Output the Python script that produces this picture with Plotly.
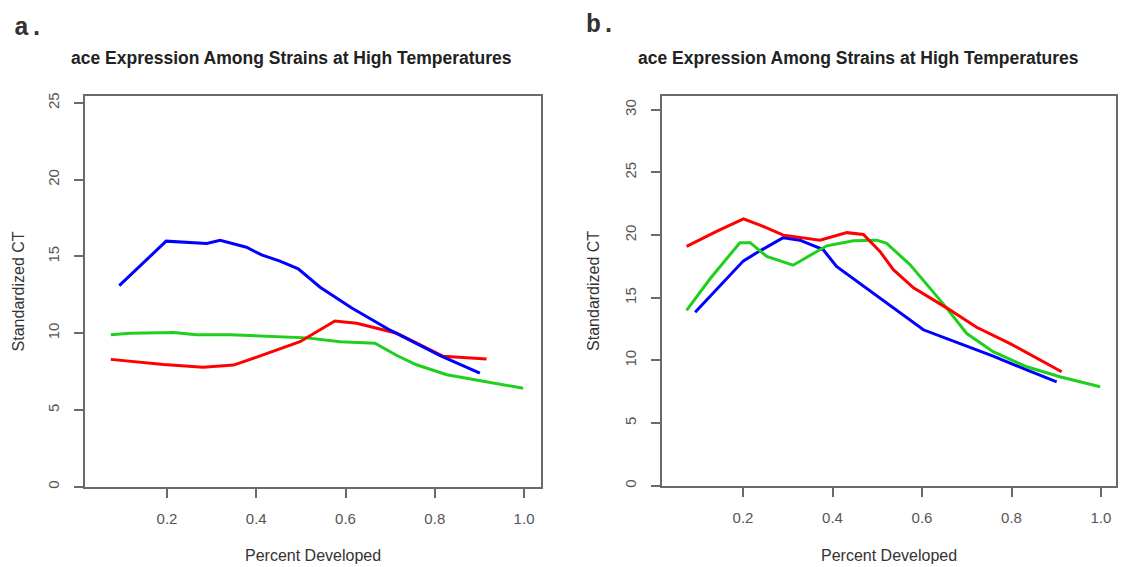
import plotly.graph_objects as go

W, H = 1131, 567

# ---- data: panel a ----
a_blue_x = [0.093, 0.198, 0.289, 0.319, 0.378, 0.412, 0.453, 0.494, 0.543, 0.614, 0.700, 0.812, 0.901]
a_blue_y = [13.1, 16.0, 15.85, 16.05, 15.6, 15.1, 14.7, 14.2, 13.0, 11.65, 10.2, 8.55, 7.4]
a_green_x = [0.074, 0.117, 0.214, 0.266, 0.341, 0.423, 0.513, 0.588, 0.666, 0.715, 0.759, 0.827, 0.901, 0.998]
a_green_y = [9.9, 10.0, 10.05, 9.9, 9.9, 9.8, 9.7, 9.45, 9.35, 8.55, 7.95, 7.3, 6.9, 6.42]
a_red_x = [0.074, 0.192, 0.281, 0.349, 0.401, 0.498, 0.576, 0.625, 0.715, 0.819, 0.916]
a_red_y = [8.3, 7.97, 7.78, 7.93, 8.45, 9.45, 10.8, 10.65, 10.0, 8.5, 8.33]

# ---- data: panel b ----
b_red_x = [0.074, 0.141, 0.201, 0.238, 0.290, 0.372, 0.432, 0.469, 0.506, 0.536, 0.581, 0.655, 0.722, 0.797, 0.912]
b_red_y = [19.1, 20.3, 21.3, 20.8, 20.0, 19.6, 20.2, 20.05, 18.7, 17.25, 15.8, 14.2, 12.65, 11.35, 9.1]
b_green_x = [0.074, 0.126, 0.193, 0.216, 0.253, 0.312, 0.387, 0.447, 0.499, 0.521, 0.573, 0.648, 0.700, 0.759, 0.834, 0.908, 0.998]
b_green_y = [14.0, 16.5, 19.4, 19.4, 18.3, 17.6, 19.15, 19.55, 19.6, 19.35, 17.65, 14.5, 12.15, 10.7, 9.5, 8.7, 7.9]
b_blue_x = [0.093, 0.141, 0.201, 0.238, 0.290, 0.327, 0.379, 0.409, 0.476, 0.536, 0.603, 0.685, 0.759, 0.834, 0.901]
b_blue_y = [13.85, 15.7, 17.95, 18.75, 19.8, 19.6, 18.85, 17.5, 15.75, 14.25, 12.45, 11.35, 10.35, 9.25, 8.3]

x_ticks = [0.2, 0.4, 0.6, 0.8, 1.0]
x_ticklabels = ["0.2", "0.4", "0.6", "0.8", "1.0"]
a_y_ticks = [0, 5, 10, 15, 20, 25]
b_y_ticks = [0, 5, 10, 15, 20, 25, 30]

title_text = "ace Expression Among Strains at High Temperatures"
x_title = "Percent Developed"
y_title = "Standardized CT"

RED, GREEN, BLUE = "#ff0000", "#1ecf1e", "#0000ff"
LW = 3

fig = go.Figure()
for xs, ys, c in [(a_green_x, a_green_y, GREEN), (a_red_x, a_red_y, RED), (a_blue_x, a_blue_y, BLUE)]:
    fig.add_trace(go.Scatter(x=xs, y=ys, mode="lines", line=dict(color=c, width=LW),
                             xaxis="x", yaxis="y", showlegend=False))
for xs, ys, c in [(b_blue_x, b_blue_y, BLUE), (b_green_x, b_green_y, GREEN), (b_red_x, b_red_y, RED)]:
    fig.add_trace(go.Scatter(x=xs, y=ys, mode="lines", line=dict(color=c, width=LW),
                             xaxis="x2", yaxis="y2", showlegend=False))

AX_COL = "#6a6a6a"
TICK_FONT = dict(family="Liberation Sans, Arial, sans-serif", size=15, color="#555555")

def xax(dom, rng):
    return dict(domain=dom, range=rng, tickvals=x_ticks, ticktext=x_ticklabels,
                ticks="outside", ticklen=9, tickwidth=1.5, tickcolor=AX_COL,
                showline=True, linecolor=AX_COL, linewidth=1.5, mirror=True,
                showgrid=False, zeroline=False, tickfont=TICK_FONT, ticklabelstandoff=8)

def yax(dom, rng, ticks, anchor):
    return dict(domain=dom, range=rng, tickvals=ticks, ticktext=[str(t) for t in ticks],
                ticks="outside", ticklen=9, tickwidth=1.5, tickcolor=AX_COL, tickangle=-90,
                showline=True, linecolor=AX_COL, linewidth=1.5, mirror=True,
                showgrid=False, zeroline=False, tickfont=TICK_FONT, anchor=anchor,
                ticklabelstandoff=9)

# panel boxes in pixels
aL, aR, aT, aB = 85, 541, 93, 488
bL, bR, bT, bB = 662, 1116, 93, 487

fig.update_layout(
    width=W, height=H, margin=dict(l=0, r=0, t=0, b=0),
    paper_bgcolor="white", plot_bgcolor="white",
    xaxis=xax([aL / W, aR / W], [0.0162, 1.038]),
    yaxis=yax([1 - aB / H, 1 - aT / H], [0, 25.45], a_y_ticks, "x"),
    xaxis2=xax([bL / W, bR / W], [0.019, 1.0335]) | dict(anchor="y2"),
    yaxis2=yax([1 - bB / H, 1 - bT / H], [0, 31.1], b_y_ticks, "x2"),
)

LABEL_FONT = dict(family="Liberation Sans, Arial, sans-serif", size=16, color="#333333")
TITLE_FONT = dict(family="Liberation Sans, Arial, sans-serif", size=17.5, color="#222222")
PANEL_FONT = dict(family="Liberation Mono, Courier New, monospace", size=25, color="#333333")

ann = []
for cx, label in [(291, "a"), (858, "b")]:
    ann.append(dict(x=cx / W, y=1 - 55 / H, xref="paper", yref="paper", text="<b>" + title_text + "</b>",
                    showarrow=False, font=TITLE_FONT, xanchor="center", yanchor="middle"))
for cx in [(aL + aR) / 2, (bL + bR) / 2]:
    ann.append(dict(x=cx / W, y=1 - 557 / H, xref="paper", yref="paper", text=x_title,
                    showarrow=False, font=LABEL_FONT, xanchor="center", yanchor="middle"))
for cx, cy in [(18, (aT + aB) / 2), (594, (bT + bB) / 2)]:
    ann.append(dict(x=cx / W, y=1 - cy / H, xref="paper", yref="paper", text=y_title, textangle=-90,
                    showarrow=False, font=LABEL_FONT, xanchor="center", yanchor="middle"))
ann.append(dict(x=29 / W, y=1 - 25 / H, xref="paper", yref="paper", text="<b>a.</b>",
                showarrow=False, font=PANEL_FONT, xanchor="center", yanchor="middle"))
ann.append(dict(x=601 / W, y=1 - 22 / H, xref="paper", yref="paper", text="<b>b.</b>",
                showarrow=False, font=PANEL_FONT, xanchor="center", yanchor="middle"))
fig.update_layout(annotations=ann)

fig.write_html("out.html")
